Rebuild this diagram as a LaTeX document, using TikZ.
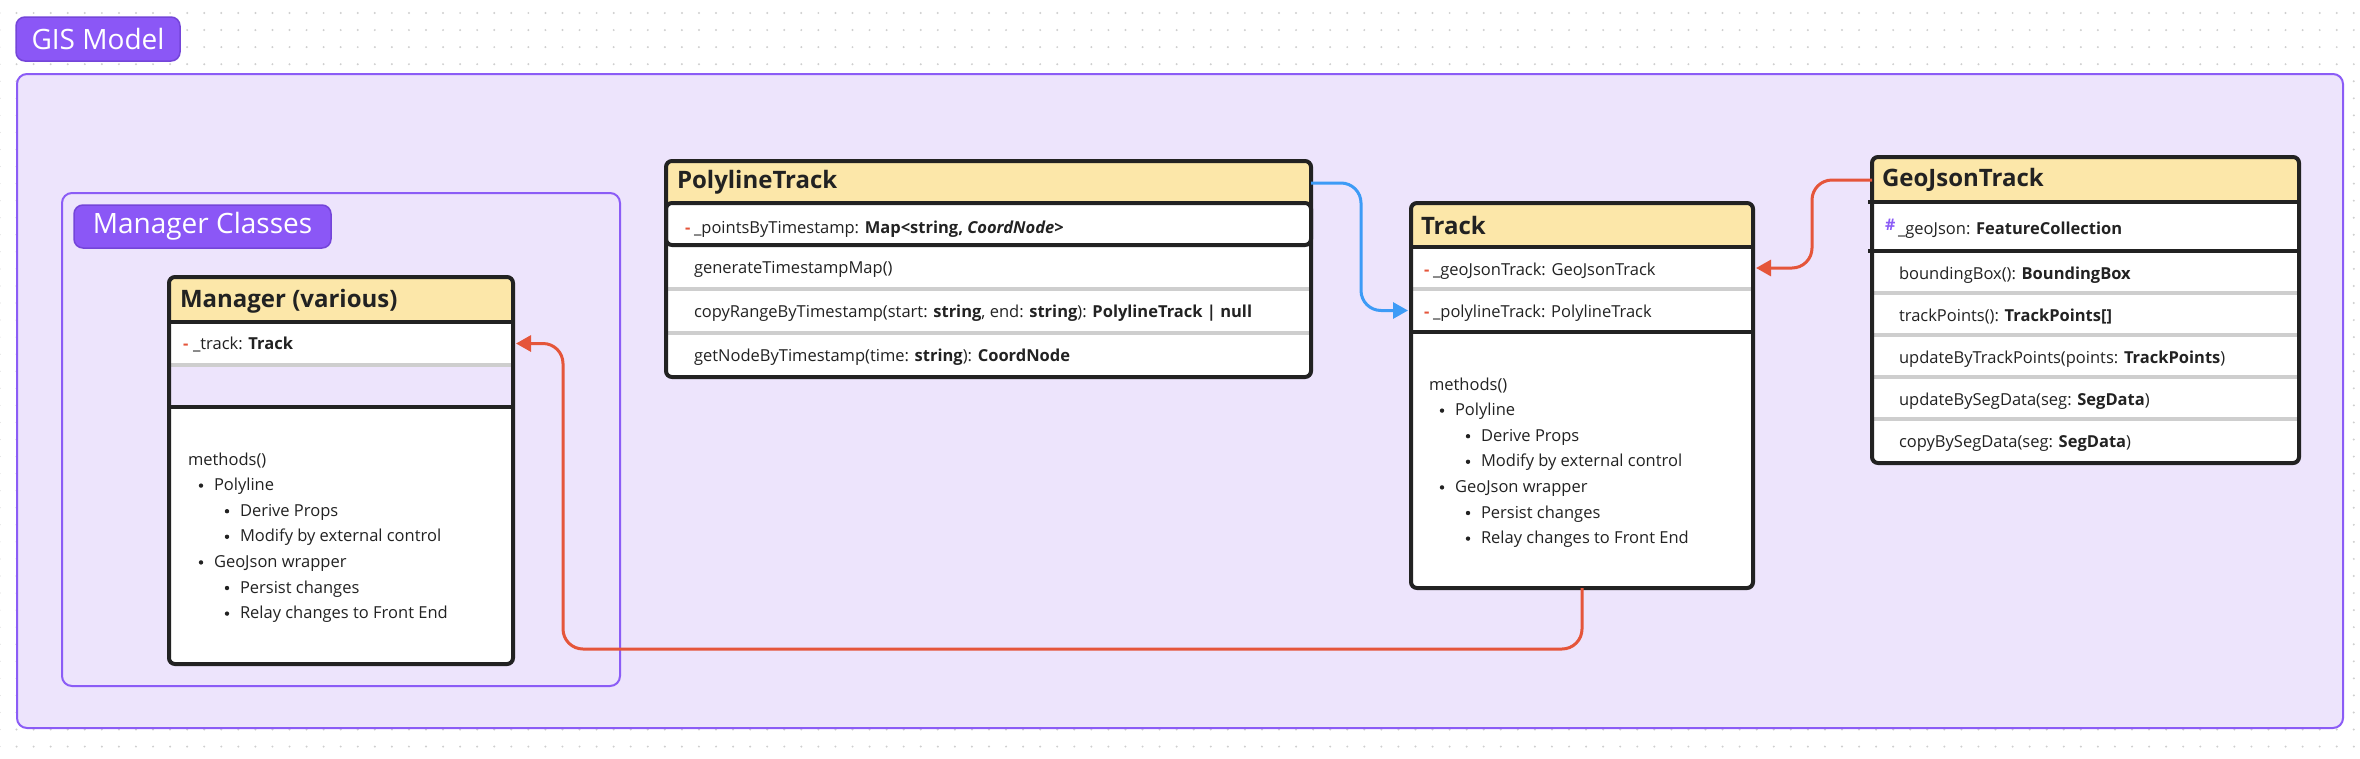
\documentclass[tikz,border=0pt]{standalone}
\usepackage{fontspec}
\setmainfont{Open Sans}
\usetikzlibrary{arrows.meta}
\definecolor{grpline}{HTML}{8B5CF6}
\definecolor{grpfill}{HTML}{EDE4FC}
\definecolor{tagfill}{HTML}{8B57F6}
\definecolor{tagline}{HTML}{7445D9}
\definecolor{hdrfill}{HTML}{FCE7A9}
\definecolor{ink}{HTML}{222222}
\definecolor{sepgrey}{HTML}{CECECE}
\definecolor{redlink}{HTML}{E5553A}
\definecolor{bluelink}{HTML}{3D9BF6}
\definecolor{dotgrey}{HTML}{CFCFCF}

\begin{document}
\begin{tikzpicture}[x=1pt,y=-1pt,
    every node/.style={inner sep=0pt,outer sep=0pt,text=ink},
    grpbox/.style={draw=grpline,fill=grpfill,line width=2pt,rounded corners=10pt,anchor=north west},
    tagbox/.style={draw=tagline,fill=tagfill,line width=1.5pt,rounded corners=9pt,anchor=north west,
      text=white,font=\fontsize{28}{33}\selectfont},
    hdrbox/.style={fill=hdrfill,rounded corners=6pt,anchor=north west},
    rowbox/.style={fill=white,anchor=north west},
    clsbox/.style={draw=ink,line width=4pt,rounded corners=6pt,anchor=north west},
    sepline/.style={draw=sepgrey,line width=4pt},
    barline/.style={draw=ink,line width=4pt},
    ttl/.style={anchor=west,font=\fontsize{24}{29}\bfseries\selectfont},
    txt/.style={anchor=base west,font=\fontsize{16.5}{19}\selectfont},
    priv/.style={anchor=base west,text=redlink,font=\fontsize{16.5}{19}\bfseries\selectfont},
    conn/.style={line width=3pt,rounded corners=20pt,shorten >=3pt,-{Triangle[length=15pt,width=16pt]}}]
  \useasboundingbox (0,0) rectangle (2360,758);
  \fill[white] (0,0) rectangle (2360,758);
  \foreach \i in {0,...,138} \foreach \j in {0,...,43}
    \fill[dotgrey] (-0.5+17.06*\i,13+17.06*\j) circle (1.1);

  \node[grpbox,minimum width=2326pt,minimum height=654pt] (gis) at (17,74) {};
  \node[tagbox,minimum width=164pt,minimum height=44pt] (gistag) at (16,17) {GIS Model};
  \node[grpbox,minimum width=558pt,minimum height=493pt] (mgrgrp) at (62,193) {};
  \node[tagbox,minimum width=257pt,minimum height=43pt] (mgrtag) at (74,205) {Manager Classes};

  % Manager (various)
  \node[hdrbox,minimum width=344pt,minimum height=46pt] (mgrhd) at (169,277) {};
  \node[rowbox,minimum width=344pt,minimum height=43pt] (mgrat) at (169,322) {};
  \node[rowbox,rounded corners=6pt,minimum width=344pt,minimum height=257pt] (mgrmt) at (169,407) {};
  \draw[sepline] (169,365) -- (513,365);
  \draw[barline] (169,322) -- (513,322) (169,407) -- (515,407);
  \node[clsbox,minimum width=344pt,minimum height=387pt] (mgr) at (169,277) {};
  \node[ttl] (mgrtt) at (180,301) {Manager (various)};
  \node[priv] (mgrpv) at (183,349) {-};
  \node[txt] (mgrtx) at (193,349) {\_track: \textbf{Track}};

  % Track
  \node[hdrbox,minimum width=342pt,minimum height=46pt] (trkhd) at (1411,203) {};
  \node[rowbox,minimum width=342pt,minimum height=42pt] (trka1) at (1411,247) {};
  \node[rowbox,minimum width=342pt,minimum height=43pt] (trka2) at (1411,289) {};
  \node[rowbox,rounded corners=6pt,minimum width=342pt,minimum height=256pt] (trkmt) at (1411,332) {};
  \draw[barline] (1411,247) -- (1753,247) (1411,332) -- (1755,332);
  \draw[sepline] (1411,289) -- (1753,289);
  \node[clsbox,minimum width=342pt,minimum height=385pt] (trk) at (1411,203) {};
  \node[ttl] (trktt) at (1421,225) {Track};
  \node[priv] (trkp1) at (1424,275) {-};
  \node[txt] (trkt1) at (1433,275) {\_geoJsonTrack: GeoJsonTrack};
  \node[priv] (trkp2) at (1424,317) {-};
  \node[txt] (trkt2) at (1433,317) {\_polylineTrack: PolylineTrack};

  \foreach \bx/\by/\nm in {188/465/mgr,1429/390/trk}{
    \node[txt] (\nm m0) at (\bx,\by) {methods()};
    \foreach \lv/\t [count=\k] in {1/Polyline,2/Derive Props,2/Modify by external control,
        1/GeoJson wrapper,2/Persist changes,2/Relay changes to Front End}{
      \fill[ink] (\bx-13+26*\lv,\by+25.6*\k-5) circle (2.2);
      \node[txt] (\nm m\k) at (\bx+26*\lv,\by+25.6*\k) {\t};
    }
  }

  % PolylineTrack
  \node[hdrbox,minimum width=645pt,minimum height=44pt] (plyhd) at (666,161) {};
  \node[rowbox,rounded corners=6pt,minimum width=645pt,minimum height=174pt] (plymt) at (666,203) {};
  \draw[sepline] (666,289) -- (1311,289) (666,333) -- (1311,333);
  \node[clsbox,minimum width=645pt,minimum height=42pt] (plyat) at (666,203) {};
  \node[clsbox,minimum width=645pt,minimum height=216pt] (ply) at (666,161) {};
  \node[ttl] (plytt) at (677,182) {PolylineTrack};
  \node[priv] (plypv) at (685,233) {-};
  \node[txt] (plyt0) at (694,233) {\_pointsByTimestamp: \textbf{Map<string, \textit{CoordNode}>}};
  \node[txt] (plyt1) at (694,273) {generateTimestampMap()};
  \node[txt] (plyt2) at (694,317) {copyRangeByTimestamp(start: \textbf{string}, end: \textbf{string}): \textbf{PolylineTrack | null}};
  \node[txt] (plyt3) at (694,361) {getNodeByTimestamp(time: \textbf{string}): \textbf{CoordNode}};

  % GeoJsonTrack
  \node[rowbox,rounded corners=6pt,minimum width=427pt,minimum height=306pt] (gjsbg) at (1872,157) {};
  \node[hdrbox,minimum width=427pt,minimum height=46pt] (gjshd) at (1872,157) {};
  \draw[barline] (1868,202) -- (2299,202) (1868,251) -- (2299,251);
  \foreach \y in {293,335,377,419} \draw[sepline] (1872,\y) -- (2299,\y);
  \node[clsbox,minimum width=427pt,minimum height=306pt] (gjs) at (1872,157) {};
  \node[ttl] (gjstt) at (1882,180) {GeoJsonTrack};
  \node[anchor=base west,text=grpline,font=\fontsize{16}{18}\bfseries\selectfont] (gjspv) at (1885,230) {\#};
  \node[txt] (gjst0) at (1898,234) {\_geoJson: \textbf{FeatureCollection}};
  \foreach \t [count=\k] in {{boundingBox(): \textbf{BoundingBox}},{trackPoints(): \textbf{TrackPoints[]}},
      {updateByTrackPoints(points: \textbf{TrackPoints})},{updateBySegData(seg: \textbf{SegData})},
      {copyBySegData(seg: \textbf{SegData})}}
    \node[txt] (gjsm\k) at (1899,237+42*\k) {\t};

  \draw[conn,bluelink] (plyhd.east) -- ++(50,0) |- (trka2.west);
  \draw[conn,redlink] (gjshd.west) -- ++(-60,0) |- (trka1.east);
  \draw[conn,redlink] (trk.south) |- ++(-1019,61) |- (mgrat.east);
\end{tikzpicture}
\end{document}
